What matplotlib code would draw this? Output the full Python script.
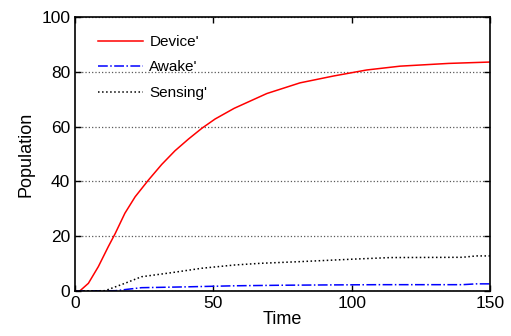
import matplotlib
matplotlib.use('Agg')
import matplotlib.pyplot as plt

plt.rcParams['font.family'] = ['Liberation Sans', 'DejaVu Sans']

# Values
t_device = [0, 1.8, 4.8, 8.4, 12, 14.5, 18, 21.7, 26.5, 31.3, 36.1, 41, 45.8,
            50.6, 57.5, 69.3, 81.3, 93.4, 105.4, 117.5, 135, 150]
device = [0, 0.1, 2.8, 8.9, 16.2, 21, 28.4, 34.4, 40.5, 46.2, 51.2, 55.5, 59.4,
          62.8, 66.7, 72.1, 76, 78.5, 80.7, 82.1, 83.1, 83.6]

t_awake = [0, 5, 10, 14.5, 24, 40, 58, 75, 90, 110, 130, 140, 145, 150]
awake = [0, 0.05, 0.08, 0.1, 1.2, 1.5, 1.9, 2.1, 2.2, 2.3, 2.3, 2.3, 2.6, 2.6]

t_sensing = [0, 5, 10.8, 18, 24, 35, 45.8, 57.8, 67, 81, 100, 114, 140, 145, 150]
sensing = [0, 0.05, 0.1, 2.8, 5.2, 6.7, 8.3, 9.5, 10.1, 10.7, 11.6, 12.2, 12.3, 12.8, 12.8]

fig = plt.figure(figsize=(5.11, 3.36), dpi=100)
ax = fig.add_axes([0.147, 0.134, 0.812, 0.815])

ax.plot(t_device, device, color='red', linestyle='-', linewidth=1.1, label="Device'")
ax.plot(t_awake, awake, color='blue', linestyle='-.', linewidth=1.1, label="Awake'")
ax.plot(t_sensing, sensing, color='black', linestyle=':', linewidth=1.1, label="Sensing'")

ax.set_xlim(0, 150)
ax.set_ylim(0, 100)
ax.set_xticks([0, 50, 100, 150])
ax.set_yticks([0, 20, 40, 60, 80, 100])
ax.yaxis.grid(True, linestyle=':', color='0.35', linewidth=0.9)
ax.tick_params(direction='in', top=True, right=True, labelsize=12.5, length=4, width=1)
for s in ax.spines.values():
    s.set_linewidth(1.2)

ax.set_xlabel('Time', fontsize=13, labelpad=0)
ax.set_ylabel('Population', fontsize=13, labelpad=5)

ax.legend(loc='upper left', bbox_to_anchor=(0.041, 0.957), frameon=False, fontsize=11,
          handlelength=2.95, labelspacing=0.75, borderaxespad=0, handletextpad=0.4)

fig.savefig('out.png', dpi=100)
